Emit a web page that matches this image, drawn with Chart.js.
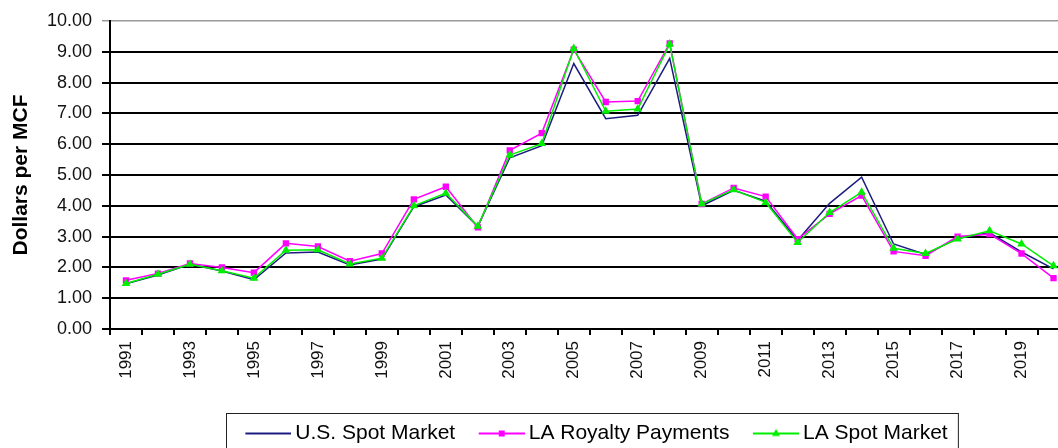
<!DOCTYPE html>
<html>
<head>
<meta charset="utf-8">
<title>Natural gas prices, dollars per MCF</title>
<script src="https://cdn.jsdelivr.net/npm/chart.js@4.4.1/dist/chart.umd.min.js"></script>
<style>
  html, body { margin: 0; padding: 0; background: #fff; overflow: hidden; }
  #wrap { position: absolute; left: 0; top: 0; }
</style>
</head>
<body>
<div id="wrap"><canvas id="priceChart" width="1080" height="470"></canvas></div>
<script>
// ---------------------------------------------------------------------------
// Data
// ---------------------------------------------------------------------------

const years = ['1991', '1992', '1993', '1994', '1995', '1996', '1997', '1998', '1999', '2000',
               '2001', '2002', '2003', '2004', '2005', '2006', '2007', '2008', '2009', '2010',
               '2011', '2012', '2013', '2014', '2015', '2016', '2017', '2018', '2019', '2020'];

const usSpot    = [1.47, 1.75, 2.10, 1.88, 1.60, 2.47, 2.50, 2.08, 2.27, 3.97,
                   4.35, 3.33, 5.56, 5.95, 8.62, 6.83, 6.94, 8.79, 4.00, 4.50,
                   4.15, 2.88, 4.08, 4.93, 2.76, 2.42, 2.95, 3.12, 2.50, 1.95];

const laRoyalty = [1.58, 1.80, 2.13, 2.00, 1.83, 2.78, 2.68, 2.20, 2.45, 4.21,
                   4.62, 3.30, 5.80, 6.36, 9.07, 7.37, 7.40, 9.27, 4.06, 4.58,
                   4.30, 2.92, 3.74, 4.33, 2.52, 2.38, 3.00, 3.08, 2.45, 1.65];

const laSpot    = [1.48, 1.78, 2.10, 1.89, 1.65, 2.56, 2.57, 2.11, 2.30, 4.00,
                   4.41, 3.34, 5.65, 6.02, 9.11, 7.07, 7.14, 9.25, 4.06, 4.52,
                   4.11, 2.81, 3.78, 4.44, 2.62, 2.45, 2.92, 3.19, 2.76, 2.05];

const seriesNames = ['U.S. Spot Market', 'LA Royalty Payments', 'LA Spot Market'];

const NAVY  = '#1c1c80';
const PINK  = '#ff00ff';
const GREEN = '#00ee00';
const FONT  = "'Liberation Sans', Arial, sans-serif";

// ---------------------------------------------------------------------------
// Helpers
// ---------------------------------------------------------------------------

// small line + marker picture used as the legend symbol
function legendSample(color, marker) {
  const c = document.createElement('canvas');
  c.width = 66;
  c.height = 14;
  const g = c.getContext('2d');
  g.strokeStyle = color;
  g.lineWidth = 2;
  g.beginPath();
  g.moveTo(20, 7);
  g.lineTo(66, 7);
  g.stroke();
  g.fillStyle = color;
  if (marker === 'rect') {
    g.fillRect(40, 4, 6, 6);
  } else if (marker === 'triangle') {
    g.beginPath();
    g.moveTo(43, 2.5);
    g.lineTo(47, 9.5);
    g.lineTo(39, 9.5);
    g.closePath();
    g.fill();
  }
  return c;
}

const samples = [
  legendSample(NAVY, null),
  legendSample(PINK, 'rect'),
  legendSample(GREEN, 'triangle')
];

// box drawn round the legend row
const legendFrame = {
  id: 'legendFrame',
  afterDraw(chart) {
    const lg = chart.legend;
    if (!lg || !lg.legendHitBoxes || !lg.legendHitBoxes.length) return;
    const boxes = lg.legendHitBoxes;
    const left  = Math.min(...boxes.map(b => b.left)) - 6;
    const right = Math.max(...boxes.map(b => b.left + b.width)) + 10;
    const top   = boxes[0].top - 10;
    const ctx = chart.ctx;
    ctx.save();
    ctx.strokeStyle = '#222';
    ctx.lineWidth = 1;
    ctx.strokeRect(Math.round(left) + 0.5, Math.round(top) + 0.5, right - left, chart.height);
    ctx.restore();
  }
};

// ---------------------------------------------------------------------------
// Chart
// ---------------------------------------------------------------------------

new Chart(document.getElementById('priceChart').getContext('2d'), {
  type: 'line',
  data: {
    labels: years,
    datasets: [
      {
        label: seriesNames[0],
        data: usSpot,
        borderColor: NAVY,
        backgroundColor: NAVY,
        borderWidth: 1.5,
        pointRadius: 0,
        order: 2
      },
      {
        label: seriesNames[1],
        data: laRoyalty,
        borderColor: PINK,
        backgroundColor: PINK,
        borderWidth: 1.5,
        pointStyle: 'rect',
        pointRadius: 4.5,
        pointBorderWidth: 0,
        order: 1
      },
      {
        label: seriesNames[2],
        data: laSpot,
        borderColor: GREEN,
        backgroundColor: GREEN,
        borderWidth: 1.5,
        pointStyle: 'triangle',
        pointRadius: 5,
        pointBorderWidth: 0,
        order: 0
      }
    ]
  },
  options: {
    responsive: false,
    animation: false,
    events: [],
    layout: { padding: { top: 21, left: 0, right: 0, bottom: 16 } },
    elements: { line: { tension: 0 } },
    plugins: {
      tooltip: { enabled: false },
      legend: {
        position: 'bottom',
        fullSize: false,
        labels: {
          usePointStyle: true,
          pointStyleWidth: 53,
          padding: 10,
          color: '#000',
          font: { family: FONT, size: 21 },
          sort: (a, b) => a.datasetIndex - b.datasetIndex,
          generateLabels(chart) {
            const items = Chart.defaults.plugins.legend.labels.generateLabels(chart);
            items.forEach(it => { it.pointStyle = samples[it.datasetIndex]; });
            return items;
          }
        }
      }
    },
    scales: {
      x: {
        offset: true,
        afterFit(scale) { scale.height = 84; },
        grid: {
          offset: true,
          drawOnChartArea: false,
          drawTicks: true,
          tickLength: 6,
          color: '#000',
          lineWidth: 2
        },
        border: { display: true, color: '#000', width: 2 },
        ticks: {
          autoSkip: false,
          minRotation: 90,
          maxRotation: 90,
          padding: 6,
          color: '#111',
          font: { family: FONT, size: 17 },
          callback: function (v, i) { return i % 2 === 0 ? this.getLabelForValue(v) : ''; }
        }
      },
      y: {
        min: 0,
        max: 10,
        afterFit(scale) { scale.width = 110; },
        grid: {
          color: ctx => (ctx.tick && ctx.tick.value === 10 ? '#9a9a9a' : '#000'),
          lineWidth: ctx => (ctx.tick && ctx.tick.value === 10 ? 1.5 : 2),
          tickLength: 8
        },
        border: { display: true, color: '#000', width: 2 },
        ticks: {
          stepSize: 1,
          padding: 10,
          color: '#111',
          font: { family: FONT, size: 18 },
          callback: v => v.toFixed(2)
        },
        title: {
          display: true,
          text: 'Dollars per MCF',
          color: '#000',
          padding: { top: 9, bottom: 0 },
          font: { family: FONT, size: 21, weight: 'bold' }
        }
      }
    }
  },
  plugins: [legendFrame]
});
</script>
</body>
</html>
